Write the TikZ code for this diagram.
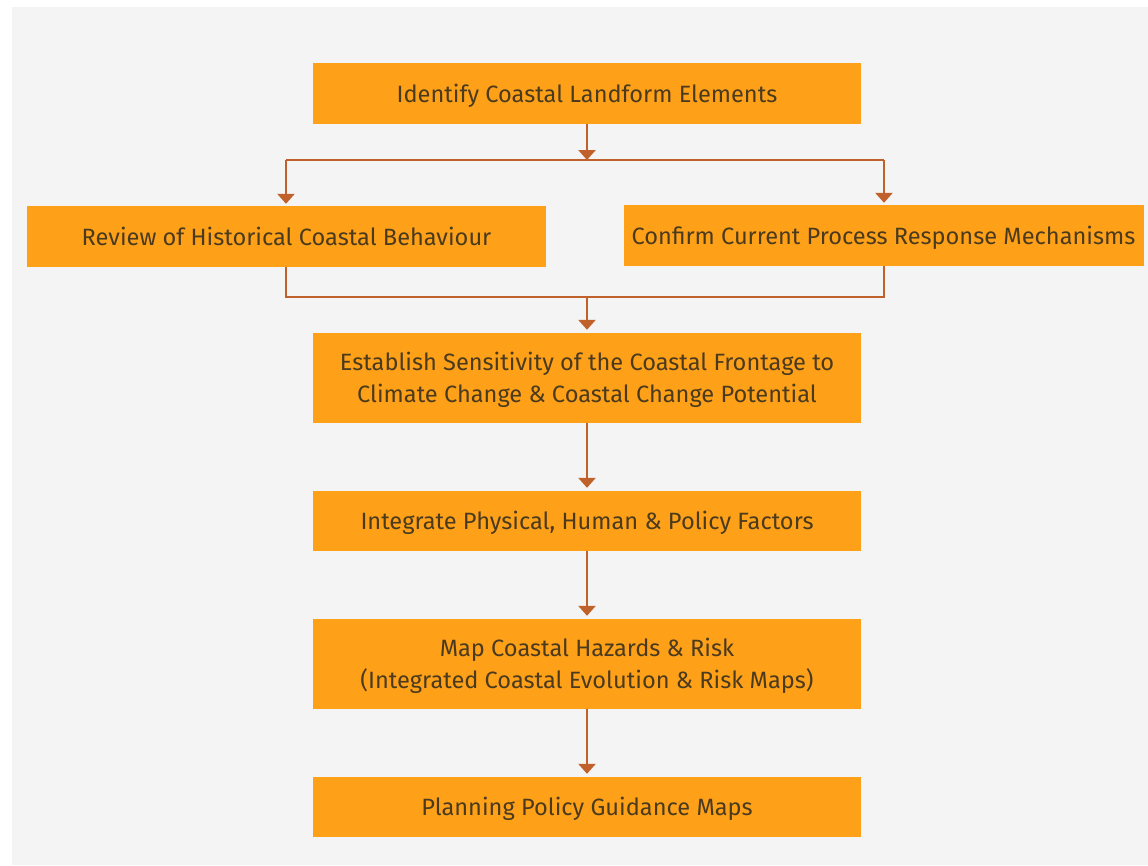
\documentclass[tikz,border=0pt]{standalone}
\usepackage{fontspec}
\setmainfont{Fira Sans}
\usetikzlibrary{arrows.meta}
\definecolor{bgc}{HTML}{F4F4F4}
\definecolor{boxc}{HTML}{FFA019}
\definecolor{linec}{HTML}{C0602A}
\definecolor{txtc}{HTML}{4A3A1E}
\tikzset{
  x=1pt, y=-1pt,
  stepbox/.style={rectangle, fill=boxc, text=txtc, inner sep=0pt, align=center,
    text height=22pt, text depth=5pt,
    font=\fontsize{23.6}{32}\selectfont},
  twoline/.style={text height=54pt},
  conn/.style={draw=linec, line width=2.6pt},
  arr/.style={conn, -{Triangle[width=17pt,length=10pt]}},
}
\begin{document}
\begin{tikzpicture}
\useasboundingbox (0,0) rectangle (1148,865);
\fill[white] (0,0) rectangle (1148,865);
\fill[bgc] (12,7) rectangle (1148,865);

\node[stepbox, minimum width=548pt, minimum height=61pt] (b1) at (587,93.5) {Identify Coastal Landform Elements};
\node[stepbox, minimum width=519pt, minimum height=61pt] (b2) at (286.5,236.5) {Review of Historical Coastal Behaviour};
\node[stepbox, minimum width=520pt, minimum height=61pt] (b3) at (883.5,235.5) {Confirm Current Process Response Mechanisms};
\node[stepbox, twoline, minimum width=548pt, minimum height=90pt] (b4) at (587,378) {Establish Sensitivity of the Coastal Frontage to\\Climate Change \& Coastal Change Potential};
\node[stepbox, minimum width=548pt, minimum height=60pt] (b5) at (587,521) {Integrate Physical, Human \& Policy Factors};
\node[stepbox, twoline, minimum width=548pt, minimum height=90pt] (b6) at (587,664) {Map Coastal Hazards \& Risk\\(Integrated Coastal Evolution \& Risk Maps)};
\node[stepbox, minimum width=548pt, minimum height=60pt] (b7) at (587,807) {Planning Policy Guidance Maps};

\coordinate (j1) at (587,160);
\coordinate (jl) at (286,160);
\coordinate (jr) at (884,160);
\coordinate (k1) at (587,297);
\coordinate (kl) at (286,297);
\coordinate (kr) at (884,297);

\draw[arr] (b1.south) -- (j1);
\draw[conn] (jl) -- (jr);
\draw[arr, shorten >=2pt] (jl) -- (jl |- b2.north);
\draw[arr, shorten >=2pt] (jr) -- (jr |- b3.north);
\draw[conn] (kl |- b2.south) -- (kl) -- (kr) -- (kr |- b3.south);
\draw[arr, shorten >=3pt] (k1) -- (b4.north);
\draw[arr, shorten >=3pt] (b4.south) -- (b5.north);
\draw[arr, shorten >=3pt] (b5.south) -- (b6.north);
\draw[arr, shorten >=3pt] (b6.south) -- (b7.north);
\end{tikzpicture}
\end{document}
